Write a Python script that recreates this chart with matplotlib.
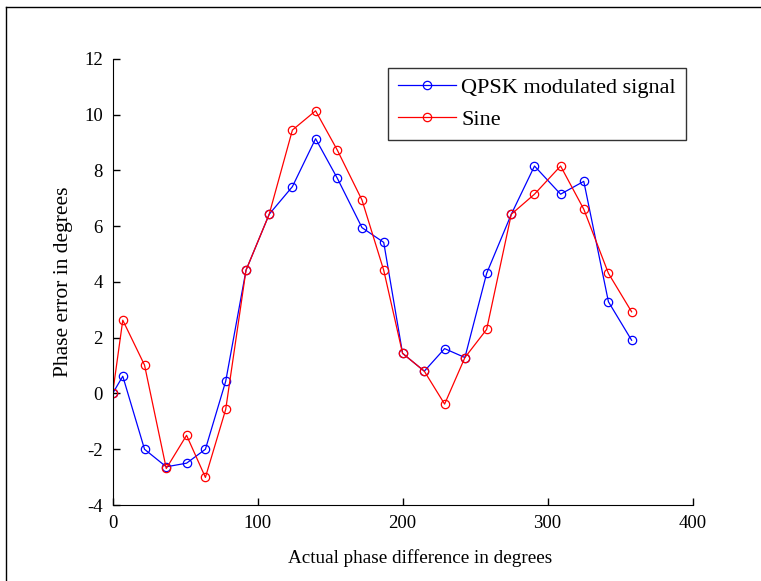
import matplotlib
matplotlib.use("Agg")
import matplotlib.pyplot as plt
from matplotlib.lines import Line2D

# Values
phase_diff = [0, 7, 22, 37, 51, 64, 78, 92, 108, 124, 140, 155, 172, 187,
              200, 215, 229, 243, 258, 275, 291, 309, 325, 342, 358]
qpsk_error = [0, 0.62, -2.0, -2.63, -2.5, -2.0, 0.44, 4.42, 6.43, 7.42, 9.14, 7.72,
              5.95, 5.42, 1.44, 0.8, 1.61, 1.29, 4.31, 6.43, 8.16, 7.15, 7.61, 3.29, 1.91]
sine_error = [0, 2.63, 1.02, -2.69, -1.5, -3.01, -0.57, 4.42, 6.43, 9.45, 10.14, 8.73,
              6.94, 4.42, 1.44, 0.8, -0.38, 1.29, 2.30, 6.43, 7.15, 8.16, 6.61, 4.31, 2.93]

x_ticks = [0, 100, 200, 300, 400]
y_ticks = [-4, -2, 0, 2, 4, 6, 8, 10, 12]

plt.rcParams["font.family"] = ["Liberation Serif", "DejaVu Serif"]
plt.rcParams["font.size"] = 13
plt.rcParams["axes.unicode_minus"] = False  # plain hyphen like the original

fig = plt.figure(figsize=(7.61, 5.81), dpi=100)
ax = fig.add_axes([0.148, 0.1308, 0.762, 0.7677])

ax.plot(phase_diff, qpsk_error, color="#0000ff", linewidth=0.9, marker="o",
        markersize=6, markerfacecolor="none", markeredgewidth=0.9, label="QPSK modulated signal")
ax.plot(phase_diff, sine_error, color="#ff0000", linewidth=0.9, marker="o",
        markersize=6, markerfacecolor="none", markeredgewidth=0.9, label="Sine")

ax.set_xlim(0, 400)
ax.set_ylim(-4, 12)
ax.set_xticks(x_ticks)
ax.set_yticks(y_ticks)
ax.spines["top"].set_visible(False)
ax.spines["right"].set_visible(False)
ax.tick_params(direction="in", length=5, width=1, pad=7, labelsize=13.5)
ax.set_xlabel("Actual phase difference in degrees", fontsize=13.8, labelpad=12)
ax.xaxis.set_label_coords(0.531, -0.098)
ax.set_ylabel("Phase error in degrees", fontsize=15.5, labelpad=8)

legend = ax.legend(loc="upper right", bbox_to_anchor=(0.9886, 0.9805), borderaxespad=0,
                   fontsize=16, fancybox=False, handlelength=2.6, handletextpad=0.25,
                   labelspacing=0.5, borderpad=0.45)
legend.get_frame().set_edgecolor("black")
legend.get_frame().set_linewidth(1)

# thin frame lines at top and left of the picture
fig.add_artist(Line2D([6 / 761, 1], [1 - 7 / 581, 1 - 7 / 581], color="black", linewidth=1,
                      transform=fig.transFigure))
fig.add_artist(Line2D([6 / 761, 6 / 761], [0, 1 - 7 / 581], color="black", linewidth=1,
                      transform=fig.transFigure))

fig.savefig("out.png", dpi=100)
